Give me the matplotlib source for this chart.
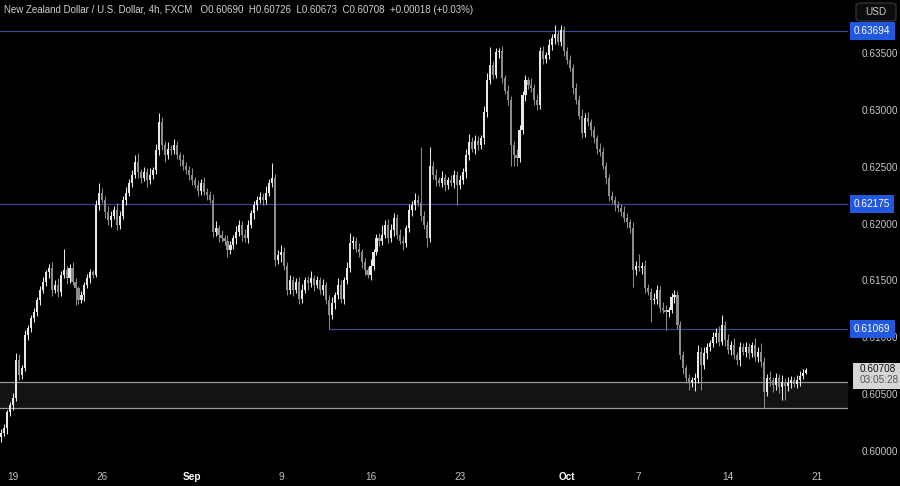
import matplotlib
matplotlib.use("Agg")
import matplotlib.pyplot as plt
from matplotlib.patches import FancyBboxPatch, Rectangle
from matplotlib.transforms import blended_transform_factory
import numpy as np

plt.rcParams["font.family"] = ["Liberation Sans", "DejaVu Sans"]

# ---------------- data (NZD/USD 4h, FXCM) ----------------
first_open = 0.6012
closes = [
    0.6016, 0.6020, 0.6034, 0.6040, 0.6047, 0.6080, 0.6067, 0.6073, 0.6102, 0.6108,
    0.6117, 0.6122, 0.6133, 0.6142, 0.6149, 0.6157, 0.6161, 0.6142, 0.6146, 0.6140,
    0.6155, 0.6159, 0.6152, 0.6161, 0.6149, 0.6143, 0.6133, 0.6137, 0.6146, 0.6152,
    0.6157, 0.6155, 0.6216, 0.6227, 0.6221, 0.6210, 0.6203, 0.6207, 0.6212, 0.6199,
    0.6207, 0.6221, 0.6227, 0.6236, 0.6243, 0.6254, 0.6245, 0.6240, 0.6245, 0.6238,
    0.6243, 0.6247, 0.6265, 0.6289, 0.6269, 0.6260, 0.6266, 0.6265, 0.6269, 0.6260,
    0.6256, 0.6251, 0.6247, 0.6243, 0.6238, 0.6234, 0.6229, 0.6236, 0.6228, 0.6225,
    0.6221, 0.6193, 0.6196, 0.6190, 0.6187, 0.6185, 0.6177, 0.6181, 0.6187, 0.6193,
    0.6199, 0.6190, 0.6187, 0.6199, 0.6209, 0.6216, 0.6221, 0.6223, 0.6221, 0.6227,
    0.6236, 0.6240, 0.6168, 0.6172, 0.6175, 0.6163, 0.6142, 0.6150, 0.6142, 0.6149,
    0.6134, 0.6142, 0.6150, 0.6148, 0.6152, 0.6146, 0.6150, 0.6142, 0.6146, 0.6133,
    0.6120, 0.6130, 0.6137, 0.6146, 0.6134, 0.6150, 0.6161, 0.6183, 0.6185, 0.6178,
    0.6175, 0.6166, 0.6159, 0.6155, 0.6163, 0.6175, 0.6187, 0.6185, 0.6190, 0.6199,
    0.6187, 0.6194, 0.6205, 0.6190, 0.6185, 0.6183, 0.6196, 0.6212, 0.6216, 0.6221,
    0.6218, 0.6207, 0.6199, 0.6187, 0.6251, 0.6243, 0.6238, 0.6236, 0.6240, 0.6234,
    0.6238, 0.6236, 0.6243, 0.6234, 0.6238, 0.6245, 0.6260, 0.6272, 0.6266, 0.6273,
    0.6269, 0.6275, 0.6298, 0.6326, 0.6339, 0.6331, 0.6351, 0.6352, 0.6328, 0.6317,
    0.6309, 0.6269, 0.6260, 0.6258, 0.6282, 0.6313, 0.6326, 0.6322, 0.6319, 0.6309,
    0.6304, 0.6352, 0.6345, 0.6348, 0.6357, 0.6363, 0.6367, 0.6360, 0.6370, 0.6352,
    0.6344, 0.6337, 0.6319, 0.6309, 0.6295, 0.6280, 0.6293, 0.6289, 0.6282, 0.6275,
    0.6266, 0.6263, 0.6251, 0.6240, 0.6224, 0.6221, 0.6216, 0.6214, 0.6210, 0.6205,
    0.6201, 0.6196, 0.6159, 0.6163, 0.6161, 0.6163, 0.6143, 0.6140, 0.6133, 0.6134,
    0.6142, 0.6126, 0.6124, 0.6122, 0.6124, 0.6135, 0.6137, 0.6111, 0.6084, 0.6073,
    0.6064, 0.6061, 0.6062, 0.6064, 0.6087, 0.6076, 0.6086, 0.6091, 0.6095, 0.6100,
    0.6104, 0.6096, 0.6111, 0.6098, 0.6089, 0.6093, 0.6084, 0.6080, 0.6091, 0.6087,
    0.6091, 0.6086, 0.6093, 0.6083, 0.6087, 0.6078, 0.6052, 0.6064, 0.6062, 0.6058,
    0.6064, 0.6056, 0.6061, 0.6057, 0.6060, 0.6062, 0.6059, 0.6062, 0.6066, 0.60690,
    0.60708,
]
# upper / lower wick lengths in pips (0.0001)
upper_wick = [
    3, 4, 2, 3, 4, 6, 5, 3, 4, 3,
    3, 4, 2, 3, 4, 2, 3, 5, 4, 6,
    3, 19, 4, 3, 5, 3, 2, 4, 3, 4,
    3, 2, 5, 9, 4, 3, 5, 4, 3, 6,
    4, 3, 5, 3, 4, 6, 8, 3, 5, 4,
    6, 3, 5, 8, 5, 4, 6, 3, 5, 4,
    3, 5, 3, 4, 6, 3, 4, 3, 5, 3,
    4, 5, 6, 3, 4, 3, 5, 4, 3, 5,
    4, 3, 5, 4, 3, 4, 3, 5, 4, 6,
    3, 13, 4, 5, 6, 4, 3, 5, 4, 3,
    4, 5, 3, 4, 6, 3, 4, 3, 5, 3,
    4, 5, 3, 6, 4, 3, 5, 9, 4, 3,
    5, 3, 4, 3, 6, 3, 4, 5, 9, 4,
    5, 6, 4, 3, 5, 4, 3, 5, 4, 6,
    4, 49, 4, 3, 16, 4, 5, 3, 6, 4,
    3, 5, 4, 3, 5, 4, 6, 7, 4, 5,
    4, 3, 5, 6, 16, 4, 3, 2, 4, 3,
    5, 3, 4, 6, 5, 4, 5, 3, 6, 4,
    5, 3, 4, 3, 5, 4, 8, 3, 5, 4,
    3, 4, 3, 5, 4, 6, 4, 5, 3, 4,
    3, 5, 4, 3, 4, 5, 3, 4, 3, 5,
    4, 3, 5, 4, 10, 3, 5, 4, 3, 5,
    4, 3, 5, 4, 3, 4, 5, 4, 3, 4,
    3, 4, 3, 5, 6, 4, 5, 4, 3, 5,
    4, 6, 9, 3, 5, 4, 6, 3, 5, 4,
    5, 4, 3, 6, 4, 8, 5, 4, 6, 3,
    5, 4, 6, 3, 5, 4, 3, 5, 4, 3,
    1.8,
]
lower_wick = [
    4, 3, 5, 3, 4, 3, 5, 4, 3, 4,
    3, 4, 3, 5, 3, 4, 5, 6, 3, 5,
    4, 3, 5, 4, 3, 15, 4, 3, 5, 3,
    4, 3, 2, 4, 3, 5, 4, 6, 3, 5,
    4, 3, 5, 3, 4, 3, 5, 4, 3, 6,
    3, 4, 3, 5, 4, 6, 3, 5, 4, 3,
    5, 4, 3, 5, 4, 3, 5, 4, 3, 4,
    3, 5, 4, 6, 3, 4, 6, 4, 3, 5,
    4, 5, 3, 4, 3, 5, 4, 3, 5, 4,
    3, 4, 5, 4, 6, 4, 5, 4, 6, 3,
    5, 4, 3, 6, 4, 5, 3, 4, 5, 4,
    13, 4, 5, 3, 4, 5, 3, 4, 5, 3,
    4, 5, 4, 3, 5, 4, 3, 5, 4, 3,
    4, 3, 5, 4, 3, 6, 4, 3, 5, 4,
    3, 5, 4, 8, 3, 4, 5, 3, 4, 5,
    4, 3, 5, 18, 4, 3, 5, 4, 3, 5,
    4, 3, 5, 4, 3, 4, 3, 5, 4, 3,
    5, 18, 9, 7, 4, 3, 5, 4, 3, 5,
    4, 3, 5, 4, 3, 4, 5, 3, 4, 5,
    4, 3, 5, 4, 3, 5, 4, 3, 5, 4,
    5, 4, 3, 5, 4, 3, 5, 4, 3, 4,
    5, 4, 15, 4, 3, 5, 4, 3, 20, 4,
    5, 4, 3, 16, 4, 3, 5, 4, 3, 5,
    4, 7, 5, 9, 4, 22, 4, 5, 3, 4,
    5, 4, 3, 6, 4, 5, 3, 4, 5, 3,
    4, 5, 3, 4, 5, 4, 14, 4, 5, 6,
    4, 5, 11, 12, 4, 5, 3, 4, 5, 3,
    1.7,
]

date_tick_idx = [4, 34, 64, 94, 124, 154, 190, 214, 244, 274]
date_tick_labels = ["19", "26", "Sep", "9", "16", "23", "Oct", "7", "14", "21"]
bold_dates = ["Sep", "Oct"]

price_ticks = [0.600, 0.605, 0.610, 0.615, 0.620, 0.625, 0.630, 0.635]
level_top = 0.63694
level_mid = 0.62175
level_low = 0.61069
level_low_start = 110
zone_top = 0.60607
zone_bottom = 0.60378
last_price = 0.60708
countdown = "03:05:28"
title = "New Zealand Dollar / U.S. Dollar, 4h, FXCM"
ohlc_text = "O0.60690  H0.60726  L0.60673  C0.60708  +0.00018 (+0.03%)"

# ---------------- figure ----------------
W, H = 900, 486
fig = plt.figure(figsize=(W / 100, H / 100), dpi=100, facecolor="black")
ax_right = 848
ax_bottom = 24
ax = fig.add_axes([0, ax_bottom / H, ax_right / W, 1 - ax_bottom / H])
ax.set_facecolor("black")

closes_a = np.array(closes)
opens_a = np.concatenate([[first_open], closes_a[:-1]])
n = len(closes_a)
idx = np.arange(n)
body_top = np.maximum(opens_a, closes_a)
body_bot = np.minimum(opens_a, closes_a)
highs = body_top + np.array(upper_wick) * 1e-4
lows = body_bot - np.array(lower_wick) * 1e-4
up = closes_a >= opens_a
up_col = "#e8e8e8"
dn_col = "#8c8c8c"
colors = np.where(up, up_col, dn_col)

ax.set_ylim(0.59903, 0.63966)
px = 2.98
ax.set_xlim(-1 / px, (ax_right - 1) / px)

# zone
ax.axhspan(zone_bottom, zone_top, facecolor="#131313", edgecolor="none", zorder=0.5)
ax.axhline(zone_top, color="#9a9a9a", lw=0.9, zorder=0.6)
ax.axhline(zone_bottom, color="#9a9a9a", lw=0.9, zorder=0.6)

# levels
lvl_col = "#3a4690"
ax.axhline(level_top, color=lvl_col, lw=0.9, zorder=0.7)
ax.axhline(level_mid, color=lvl_col, lw=0.9, zorder=0.7)
ax.hlines(level_low, level_low_start, (ax_right - 1) / px, color=lvl_col, lw=0.9, zorder=0.7)

# candles
ax.vlines(idx, lows, highs, colors=colors, lw=0.75, zorder=2)
heights = np.maximum(body_top - body_bot, 0.00003)
ax.bar(idx, heights, bottom=body_bot, width=0.7, color=colors, edgecolor="none", zorder=3)

# axes styling
for s in ax.spines.values():
    s.set_visible(False)
ax.yaxis.tick_right()
ax.set_yticks(price_ticks)
ax.set_yticklabels([f"{p:.5f}" for p in price_ticks])
ax.tick_params(axis="y", length=0, pad=10, labelsize=7.2, labelcolor="#c8c8c8")
ax.set_xticks(date_tick_idx)
ax.set_xticklabels(date_tick_labels)
ax.tick_params(axis="x", length=0, pad=7, labelsize=7.2, labelcolor="#c0c0c0")
for lab in ax.get_xticklabels():
    if lab.get_text() in bold_dates:
        lab.set_color("#ffffff")
        lab.set_fontweight("bold")

# blue level labels on price scale
trans = blended_transform_factory(ax.transAxes, ax.transData)
for lv in [level_top, level_mid, level_low]:
    ax.text(1.0 + 6 / ax_right, lv, f"{lv:.5f}", transform=trans, ha="left", va="center",
            fontsize=7.2, color="white", clip_on=False, zorder=10,
            bbox=dict(boxstyle="square,pad=0.4", facecolor="#2257e0", edgecolor="none"))

# current price box
yc = ax.transData.transform((0, last_price))[1]
fig.patches.append(Rectangle((853 / W, (yc - 19) / H), 47 / W, 26 / H, transform=fig.transFigure,
                             facecolor="#d6d6d6", edgecolor="none", zorder=20))
fig.text(860 / W, (yc + 1) / H, f"{last_price:.5f}", fontsize=7.2, color="#111111",
         ha="left", va="center", zorder=21)
fig.text(860 / W, (yc - 10) / H, countdown, fontsize=7.2, color="#555555",
         ha="left", va="center", zorder=21)

# USD button
fig.patches.append(FancyBboxPatch((856 / W, (H - 21) / H), 40 / W, 18 / H,
                                  boxstyle="round,pad=0,rounding_size=0.006",
                                  transform=fig.transFigure, facecolor="#0c0c0c",
                                  edgecolor="#3c3c3c", lw=0.8, zorder=20))
fig.text(876 / W, (H - 12) / H, "USD", fontsize=7.2, color="#c8c8c8", ha="center", va="center", zorder=21)

# title
fig.text(4 / W, (H - 10) / H, title + "   " + ohlc_text, fontsize=7.0, color="#d0d0d0",
         ha="left", va="center")

fig.savefig("out.png", dpi=100, facecolor="black")
